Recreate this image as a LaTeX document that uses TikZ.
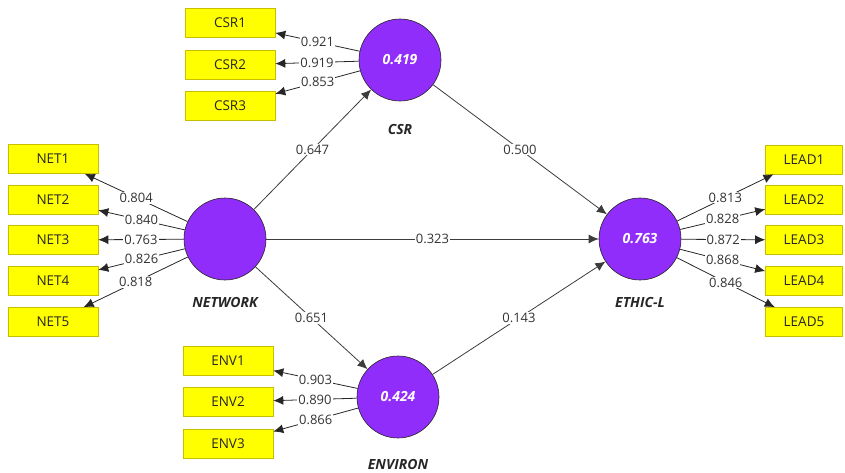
\documentclass[tikz,border=0pt]{standalone}
\usepackage{fontspec}
\setmainfont{Open Sans}
\usetikzlibrary{arrows.meta}
\definecolor{lvpurple}{RGB}{145,45,250}
\definecolor{mvyellow}{RGB}{255,255,0}
\definecolor{mvborder}{RGB}{200,190,0}
\definecolor{pathgray}{RGB}{60,60,60}
\tikzset{
  latent/.style={circle, draw=black!85, line width=0.6pt, fill=lvpurple, minimum size=82pt, inner sep=0pt,
    font=\fontsize{14}{16}\selectfont\bfseries\itshape, text=white},
  indic/.style={rectangle, draw=mvborder, line width=0.6pt, fill=mvyellow, minimum width=90pt, minimum height=29pt, inner sep=0pt,
    font=\fontsize{13.5}{15}\selectfont, text=black!85},
  leadbox/.style={indic, minimum width=77pt},
  lvname/.style={font=\fontsize{14}{16}\selectfont\bfseries\itshape, text=black!85, inner sep=0pt},
  load/.style={draw=black!85, line width=0.8pt, -{Latex[length=10pt,width=9pt]}},
  path/.style={draw=pathgray, line width=0.8pt, -{Latex[length=10pt,width=9pt]}},
  val/.style={fill=white, inner sep=1pt, font=\fontsize{13}{15}\selectfont, text=black!80}
}
\begin{document}
\begin{tikzpicture}[x=1pt,y=-1pt]
\useasboundingbox (0,0) rectangle (845,472);
% latent variables
\node[latent] (csr) at (400,60) {0.419};
\node[latent] (net) at (225,239) {};
\node[latent] (eth) at (640,239) {0.763};
\node[latent] (env) at (398,397) {0.424};
\node[lvname] (csrl) at (400,129) {CSR};
\node[lvname] (netl) at (225,302) {NETWORK};
\node[lvname] (ethl) at (640,302) {ETHIC-L};
\node[lvname] (envl) at (398,464) {ENVIRON};
% indicators
\node[indic] (csr1) at (230,23) {CSR1};
\node[indic] (csr2) at (230,65) {CSR2};
\node[indic] (csr3) at (230,106) {CSR3};
\node[indic] (net1) at (53,159) {NET1};
\node[indic] (net2) at (53,200) {NET2};
\node[indic] (net3) at (53,240) {NET3};
\node[indic] (net4) at (53,281) {NET4};
\node[indic] (net5) at (53,322) {NET5};
\node[leadbox] (lead1) at (804,159.5) {LEAD1};
\node[leadbox] (lead2) at (804,200) {LEAD2};
\node[leadbox] (lead3) at (804,240) {LEAD3};
\node[leadbox] (lead4) at (804,281) {LEAD4};
\node[leadbox] (lead5) at (804,322) {LEAD5};
\node[indic] (env1) at (228,361) {ENV1};
\node[indic] (env2) at (228,402) {ENV2};
\node[indic] (env3) at (228,444) {ENV3};
% loadings
\draw[load] (csr) -- node[val] {0.921} (csr1);
\draw[load] (csr) -- node[val] {0.919} (csr2);
\draw[load] (csr) -- node[val] {0.853} (csr3);
\draw[load] (net) -- node[val] {0.804} (net1);
\draw[load] (net) -- node[val] {0.840} (net2);
\draw[load] (net) -- node[val] {0.763} (net3);
\draw[load] (net) -- node[val] {0.826} (net4);
\draw[load] (net) -- node[val] {0.818} (net5);
\draw[load] (eth) -- node[val] {0.813} (lead1);
\draw[load] (eth) -- node[val] {0.828} (lead2);
\draw[load] (eth) -- node[val] {0.872} (lead3);
\draw[load] (eth) -- node[val] {0.868} (lead4);
\draw[load] (eth) -- node[val] {0.846} (lead5);
\draw[load] (env) -- node[val] {0.903} (env1);
\draw[load] (env) -- node[val] {0.890} (env2);
\draw[load] (env) -- node[val] {0.866} (env3);
% paths
\draw[path] (net) -- node[val] {0.647} (csr);
\draw[path] (net) -- node[val] {0.323} (eth);
\draw[path] (net) -- node[val] {0.651} (env);
\draw[path] (csr) -- node[val] {0.500} (eth);
\draw[path] (env) -- node[val] {0.143} (eth);
\end{tikzpicture}
\end{document}
